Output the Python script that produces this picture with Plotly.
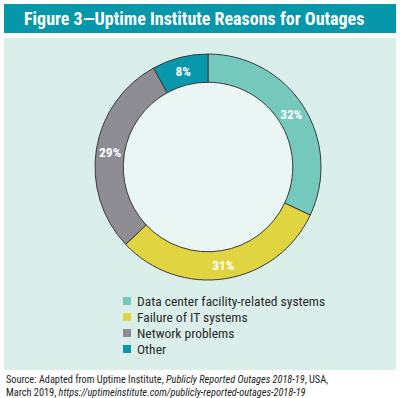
import plotly.graph_objects as go

labels = ["Data center facility-related systems", "Failure of IT systems", "Network problems", "Other"]
values = [32, 31, 29, 8]
colors = ["#74c8bc", "#e0d440", "#8e8d93", "#0898ab"]

title_text = "Figure 3\u2014Uptime Institute Reasons for Outages"
source_text = ("Source: Adapted from Uptime Institute, <i>Publicly Reported Outages 2018-19</i>, USA,<br>"
               "March 2019, <i>https://uptimeinstitute.com/publicly-reported-outages-2018-19</i>")

W, H = 400, 398
COND = "Liberation Sans Narrow, Roboto Condensed, Roboto, sans-serif"

def px(x):
    return x / W

def py(y):
    return 1 - y / H

fig = go.Figure()
fig.add_trace(go.Pie(
    labels=labels, values=values, hole=0.75, sort=False, direction="clockwise",
    marker=dict(colors=colors, line=dict(color="#3a3a3a", width=1)),
    texttemplate="<b>%{value}%</b>", textposition="inside", insidetextorientation="horizontal",
    textfont=dict(family=COND, size=13.5, color="white"),
    domain=dict(x=[px(95), px(321)], y=[py(280), py(54)]),
    showlegend=False, hoverinfo="label+value",
))

shapes = [
    dict(type="rect", xref="paper", yref="paper", x0=px(4), x1=px(396), y0=py(33), y1=py(4),
         fillcolor="#0797aa", line=dict(width=0), layer="below"),
    dict(type="rect", xref="paper", yref="paper", x0=px(4), x1=px(396), y0=py(370), y1=py(38),
         fillcolor="#daefe9", line=dict(width=0), layer="below"),
    dict(type="circle", xref="paper", yref="paper", x0=px(208 - 86), x1=px(208 + 86),
         y0=py(167 + 86), y1=py(167 - 86), fillcolor="#eaf6f4", line=dict(width=0), layer="below"),
]
annotations = [
    dict(text="<b>" + title_text + "</b>", x=px(22), y=py(18.5), xref="paper", yref="paper",
         xanchor="left", yanchor="middle", showarrow=False,
         font=dict(family=COND, size=18, color="white")),
    dict(text=source_text, x=px(4), y=py(371), xref="paper", yref="paper",
         xanchor="left", yanchor="top", align="left", showarrow=False,
         font=dict(family=COND, size=10.3, color="#222222")),
]

leg_y0 = 301
leg_dy = 16
for i, (lab, col) in enumerate(zip(labels, colors)):
    yc = leg_y0 + i * leg_dy
    shapes.append(dict(type="rect", xref="paper", yref="paper", x0=px(123), x1=px(131),
                       y0=py(yc + 4), y1=py(yc - 4), fillcolor=col, line=dict(width=0)))
    annotations.append(dict(text=lab, x=px(135), y=py(yc), xref="paper", yref="paper",
                            xanchor="left", yanchor="middle", showarrow=False,
                            font=dict(family=COND, size=13.5, color="#2a2a2a")))

fig.update_layout(
    width=W, height=H, margin=dict(l=0, r=0, t=0, b=0),
    paper_bgcolor="white", plot_bgcolor="white",
    shapes=shapes, annotations=annotations,
)

fig.write_html("out.html", config={"displayModeBar": False},
               post_script="document.body.style.margin='0px';")
